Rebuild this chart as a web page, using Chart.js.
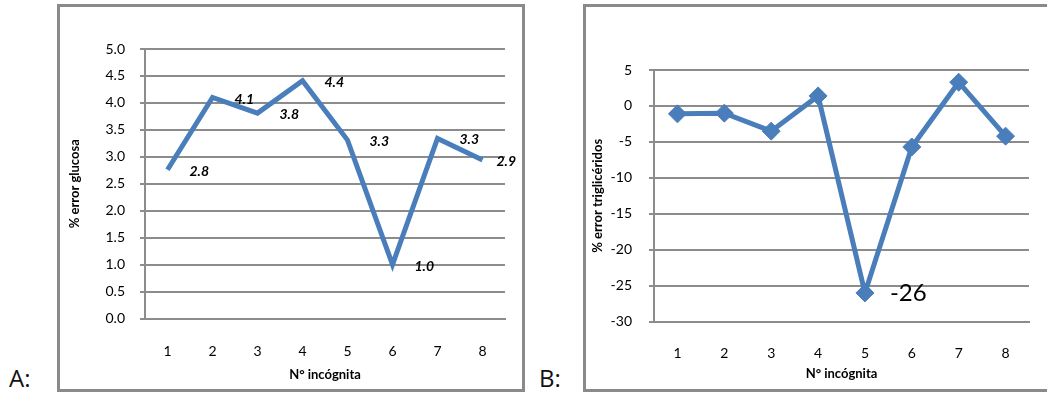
<!DOCTYPE html>
<html>
<head>
<meta charset="utf-8">
<script src="https://cdn.jsdelivr.net/npm/chart.js@4.4.1/dist/chart.umd.min.js"></script>
<style>
  body { margin: 0; width: 1047px; height: 396px; overflow: hidden; background: #fff; position: relative; }
  .frame { position: absolute; border: 3px solid #8a8a8a; box-sizing: border-box; }
  #frameA { left: 57px; top: 4px; width: 468px; height: 388px; }
  #frameB { left: 583px; top: 4px; width: 470px; height: 388px; }
  canvas { position: absolute; }
  #chartA { left: 60px; top: 7px; }
  #chartB { left: 586px; top: 7px; }
  .tag { position: absolute; top: 363px; font-family: 'Open Sans', sans-serif; font-size: 24px; line-height: 30px; color: #111; }
</style>
</head>
<body>
<div class="tag" style="left:9px">A:</div>
<div class="tag" style="left:539px">B:</div>
<div class="frame" id="frameA"></div>
<div class="frame" id="frameB"></div>
<canvas id="chartA" width="462" height="382"></canvas>
<canvas id="chartB" width="461" height="382"></canvas>
<script>
// datos
const incognitas = ['1', '2', '3', '4', '5', '6', '7', '8'];
const errorGlucosa = [2.76, 4.1, 3.81, 4.41, 3.31, 1.0, 3.34, 2.94];
const errorTrigliceridos = [-1.1, -1.0, -3.5, 1.4, -26.0, -5.7, 3.3, -4.2];
const trigConEtiqueta = [4];   // solo se rotula el punto 5

const glucosaMin = 0, glucosaMax = 5, glucosaPaso = 0.5;
const trigMin = -30, trigMax = 5, trigPaso = 5;

const AZUL = '#4a7ebb';
const GRIS = '#8c8c8c';
const TEXTO = '#000';
const FUENTE = 'Lato, "Open Sans", sans-serif';

// rotulos de datos a la derecha de cada punto
function etiquetas(cfg) {
  return {
    id: 'etiquetas',
    afterDatasetsDraw(chart) {
      const ctx = chart.ctx;
      const pts = chart.getDatasetMeta(0).data;
      const vals = chart.data.datasets[0].data;
      ctx.save();
      ctx.font = cfg.font;
      ctx.fillStyle = '#000';
      ctx.textBaseline = 'middle';
      ctx.textAlign = 'left';
      pts.forEach((p, i) => {
        if (cfg.indices && !cfg.indices.includes(i)) return;
        const txt = cfg.format(vals[i]);
        const w = ctx.measureText(txt).width;
        const x = Math.min(p.x + cfg.dx, chart.width - cfg.margen - w);
        ctx.fillText(txt, x, p.y + cfg.dy);
      });
      ctx.restore();
    }
  };
}

const fTick = { family: FUENTE, size: 14 };
const fTitulo = { family: FUENTE, size: 13, weight: 'bold' };

new Chart(document.getElementById('chartA'), {
  type: 'line',
  data: {
    labels: incognitas,
    datasets: [{
      data: errorGlucosa,
      borderColor: AZUL,
      borderWidth: 5,
      pointRadius: 0,
      tension: 0,
      fill: false,
      clip: false
    }]
  },
  options: {
    responsive: false,
    animation: false,
    devicePixelRatio: 1,
    layout: { padding: { left: 0, top: 42, right: 17, bottom: 0 } },
    plugins: { legend: { display: false }, tooltip: { enabled: false } },
    scales: {
      x: {
        offset: true,
        grid: { display: false, drawTicks: false },
        border: { display: true, color: GRIS, width: 2 },
        ticks: { padding: 25, color: TEXTO, font: fTick },
        title: { display: true, text: 'N° incógnita', color: TEXTO, font: fTitulo, padding: { top: 0, bottom: 6 } },
        afterFit: s => { s.height = 70.5; }
      },
      y: {
        min: glucosaMin,
        max: glucosaMax,
        grid: { color: GRIS, lineWidth: 2, tickLength: 5 },
        border: { display: true, color: GRIS, width: 2 },
        ticks: { stepSize: glucosaPaso, padding: 15, color: TEXTO, font: fTick, callback: v => v.toFixed(1) },
        title: { display: true, text: '% error glucosa', color: TEXTO, font: fTitulo, padding: { top: 7, bottom: 0 } },
        afterFit: s => { s.width = 85; }
      }
    }
  },
  plugins: [etiquetas({
    font: 'italic bold 14px ' + FUENTE,
    format: v => v.toFixed(1),
    dx: 22, dy: 1.5, margen: 6
  })]
});

new Chart(document.getElementById('chartB'), {
  type: 'line',
  data: {
    labels: incognitas,
    datasets: [{
      data: errorTrigliceridos,
      borderColor: AZUL,
      borderWidth: 5,
      pointStyle: 'rectRot',
      pointRadius: 9,
      pointBackgroundColor: AZUL,
      pointBorderColor: AZUL,
      pointBorderWidth: 1,
      tension: 0,
      fill: false,
      clip: false
    }]
  },
  options: {
    responsive: false,
    animation: false,
    devicePixelRatio: 1,
    layout: { padding: { left: 0, top: 63, right: 18, bottom: 0 } },
    plugins: { legend: { display: false }, tooltip: { enabled: false } },
    scales: {
      x: {
        offset: true,
        grid: { display: false, drawTicks: false },
        border: { display: true, color: GRIS, width: 2 },
        ticks: { padding: 23.5, color: TEXTO, font: fTick },
        title: { display: true, text: 'N° incógnita', color: TEXTO, font: fTitulo, padding: { top: 0, bottom: 7 } },
        afterFit: s => { s.height = 67.3; }
      },
      y: {
        min: trigMin,
        max: trigMax,
        grid: { color: GRIS, lineWidth: 2, tickLength: 5 },
        border: { display: true, color: GRIS, width: 2 },
        ticks: { stepSize: trigPaso, padding: 17, color: TEXTO, font: fTick },
        title: { display: true, text: '% error triglicéridos', color: TEXTO, font: fTitulo, padding: { top: 4, bottom: 0 } },
        afterFit: s => { s.width = 68; }
      }
    }
  },
  plugins: [etiquetas({
    font: '24px ' + FUENTE,
    format: v => v.toFixed(0),
    indices: trigConEtiqueta,
    dx: 25, dy: 0.5, margen: 7
  })]
});
</script>
</body>
</html>
